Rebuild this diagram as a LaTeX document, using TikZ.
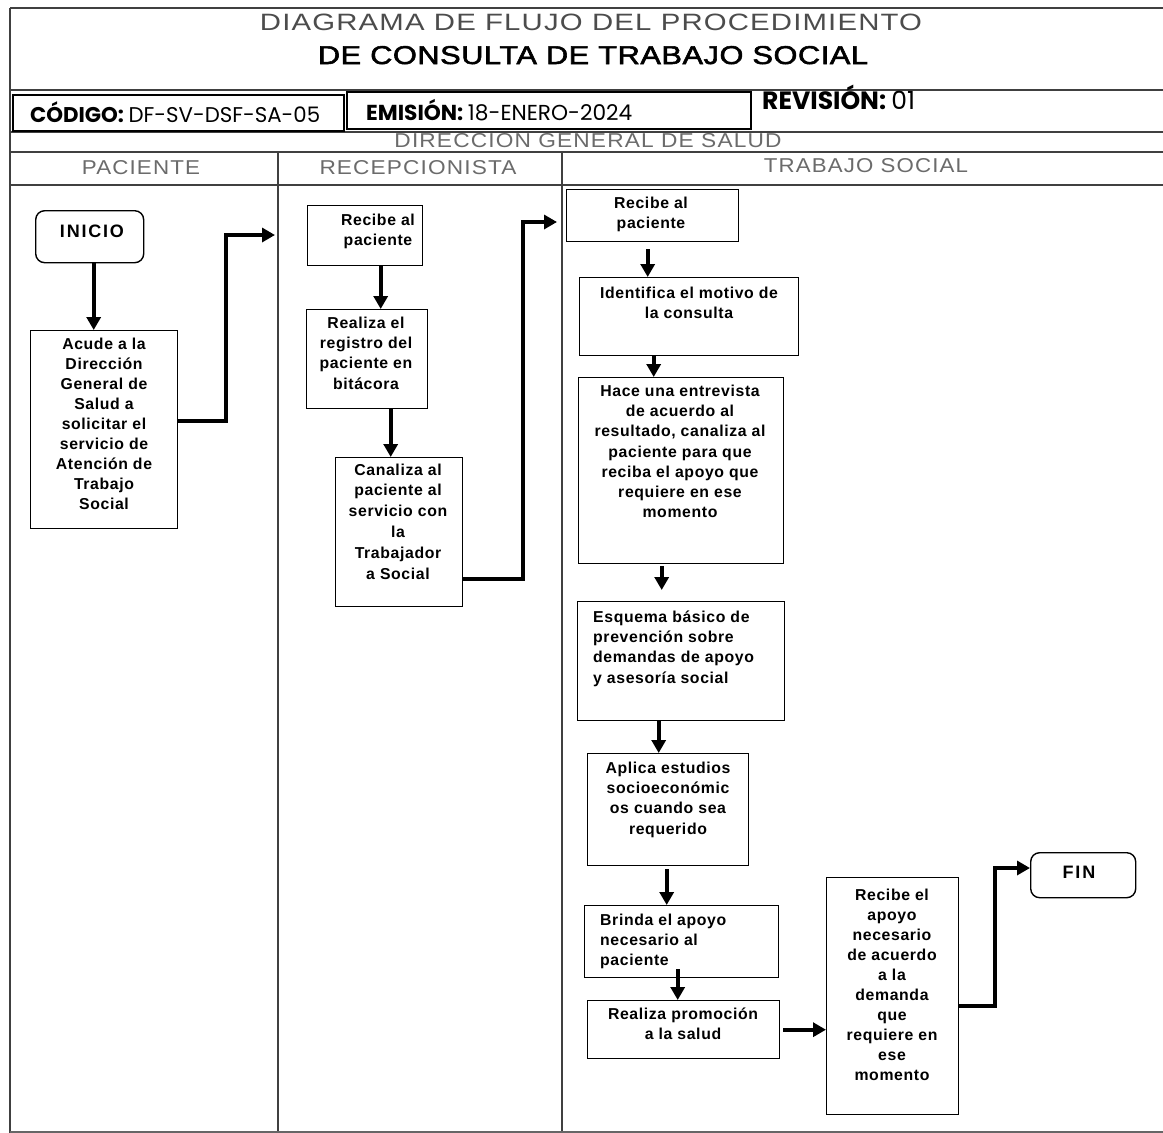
\documentclass[tikz,border=0pt]{standalone}
\usepackage{fontspec}
\usepackage{graphicx}
\setmainfont{Liberation Sans}
\newfontfamily\boxfont{Liberation Sans}[LetterSpace=4]
\newfontfamily\termfont{Liberation Sans}[LetterSpace=10]
\newfontfamily\lanefont{Liberation Sans}[LetterSpace=5]
\newfontfamily\titlefont{Liberation Sans}[LetterSpace=4]
\newfontfamily\titlefontb{Liberation Sans}[LetterSpace=2,FakeBold=2]
\newfontfamily\codefont{Poppins}
\usetikzlibrary{arrows.meta,calc}
\definecolor{framegray}{gray}{0.25}
\definecolor{hdrgray}{gray}{0.42}

\begin{document}
\begin{tikzpicture}[x=1pt,y=-1pt,
  frameline/.style={draw=framegray,line width=1.1pt},
  stepbox/.style={draw=black,line width=1.4pt,inner sep=0pt,anchor=north west},
  termbox/.style={stepbox,rounded corners=9pt},
  boxtext/.style={font=\boxfont\bfseries\fontsize{15.8}{20.3}\selectfont,align=center,inner sep=0pt,anchor=north},
  lefttext/.style={boxtext,align=left,anchor=north west},
  termtext/.style={font=\termfont\bfseries\fontsize{18}{20}\selectfont,inner sep=0pt},
  flow/.style={line width=3.6pt,-{Triangle[length=13pt,width=14pt]}},
  lane/.style={text=hdrgray,inner sep=0pt,anchor=base}
]
\useasboundingbox (0,0) rectangle (1163,1133);
\fill[white] (0,0) rectangle (1163,1133);

% ---------- header texts ----------
\node[anchor=base,inner sep=0pt,text=black!70] (title1) at (591,30.5)
  {\resizebox{662pt}{16.5pt}{\titlefont DIAGRAMA DE FLUJO DEL PROCEDIMIENTO}};
\node[anchor=base,inner sep=0pt] (title2) at (593,64)
  {\resizebox{550pt}{18pt}{\titlefontb DE CONSULTA DE TRABAJO SOCIAL}};
\node[lane] (dgs) at (588,147)
  {\resizebox{387pt}{14pt}{\lanefont DIRECCION GENERAL DE SALUD}};

% ---------- frame ----------
\draw[frameline] (10,8) -- (1163,8);
\draw[frameline] (10,8) -- (10,1133);
\draw[frameline] (10,90) -- (1163,90);
\draw[frameline] (10,132) -- (1163,132);
\draw[frameline] (10,152) -- (1163,152);
\draw[frameline] (10,185) -- (1163,185);
\draw[frameline] (278,152) -- (278,1133);
\draw[frameline] (562,152) -- (562,1133);
\draw[draw=black!60,line width=1.6pt] (10,1132) -- (1163,1132);

% ---------- code row ----------
\node[draw=black,line width=1.6pt,fill=white,inner sep=0pt,anchor=north west,
      minimum width=331pt,minimum height=36pt] (codebox) at (12,94) {};
\node[draw=black,line width=2pt,fill=white,inner sep=0pt,anchor=north west,
      minimum width=404pt,minimum height=37pt] (emibox) at (346,91) {};
\node[anchor=base west,inner sep=0pt] (codigo) at (30,122)
  {\resizebox{290pt}{!}{\codefont\bfseries CÓDIGO: \mdseries DF-SV-DSF-SA-05}};
\node[anchor=base west,inner sep=0pt] (emision) at (366,120)
  {\resizebox{266pt}{!}{\codefont\bfseries EMISIÓN: \mdseries 18-ENERO-2024}};
\node[anchor=base west,inner sep=0pt] (revision) at (762,109)
  {\resizebox{153pt}{!}{\codefont\bfseries REVISIÓN: \mdseries 01}};

% ---------- lane headings ----------
\node[lane] (hpac) at (141,174) {\resizebox{118pt}{14pt}{\lanefont PACIENTE}};
\node[lane] (hrec) at (418,174) {\resizebox{197pt}{14pt}{\lanefont RECEPCIONISTA}};
\node[lane] (hts)  at (866,172) {\resizebox{204pt}{14pt}{\lanefont TRABAJO SOCIAL}};

% ---------- PACIENTE ----------
\node[termbox,minimum width=108pt,minimum height=52pt] (inicio) at (35,210) {};
\node[termtext] (inicioT) at (92,231) {INICIO};
\node[stepbox,minimum width=147pt,minimum height=198pt] (acude) at (30,330) {};
\node[boxtext,font=\boxfont\bfseries\fontsize{15.8}{20.1}\selectfont] (acudeT) at (104,337.5)
  {Acude a la\\Dirección\\General de\\Salud a\\solicitar el\\servicio de\\Atención de\\Trabajo\\Social};

% ---------- RECEPCIONISTA ----------
\node[stepbox,minimum width=115pt,minimum height=60pt] (rrec) at (307,205) {};
\node[boxtext] (rrecT) at (378,213.5) {Recibe al\\paciente};
\node[stepbox,minimum width=121pt,minimum height=99pt] (rreg) at (306,309) {};
\node[boxtext] (rregT) at (366,316.5) {Realiza el\\registro del\\paciente en\\bitácora};
\node[stepbox,minimum width=127pt,minimum height=149pt] (rcan) at (335,457) {};
\node[boxtext,font=\boxfont\bfseries\fontsize{15.8}{20.8}\selectfont] (rcanT) at (398,463.5)
  {Canaliza al\\paciente al\\servicio con\\la\\Trabajador\\a Social};

% ---------- TRABAJO SOCIAL ----------
\node[stepbox,minimum width=172pt,minimum height=52pt] (trec) at (566,189) {};
\node[boxtext] (trecT) at (651,196.5) {Recibe al\\paciente};
\node[stepbox,minimum width=219pt,minimum height=78pt] (tide) at (579,277) {};
\node[boxtext] (tideT) at (689,286.5) {Identifica el motivo de\\la consulta};
\node[stepbox,minimum width=205pt,minimum height=186pt] (thace) at (578,377) {};
\node[boxtext] (thaceT) at (680,384.5)
  {Hace una entrevista\\de acuerdo al\\resultado, canaliza al\\paciente para que\\reciba el apoyo que\\requiere en ese\\momento};
\node[stepbox,minimum width=207pt,minimum height=119pt] (tesq) at (577,601) {};
\node[lefttext] (tesqT) at (593,610.5)
  {Esquema básico de\\prevención sobre\\demandas de apoyo\\y asesoría social};
\node[stepbox,minimum width=161pt,minimum height=112pt] (tapl) at (587,753) {};
\node[boxtext] (taplT) at (668,761.5) {Aplica estudios\\socioeconómic\\os cuando sea\\requerido};
\node[stepbox,minimum width=194pt,minimum height=72pt] (tbri) at (584,905) {};
\node[lefttext] (tbriT) at (600,913.5) {Brinda el apoyo\\necesario al\\paciente};
\node[stepbox,minimum width=192pt,minimum height=58pt] (tpro) at (587,1000) {};
\node[boxtext] (tproT) at (683,1007.5) {Realiza promoción\\a la salud};
\node[stepbox,minimum width=132pt,minimum height=237pt] (tapo) at (826,877) {};
\node[boxtext,font=\boxfont\bfseries\fontsize{15.8}{20}\selectfont] (tapoT) at (892,888.5)
  {Recibe el\\apoyo\\necesario\\de acuerdo\\a la\\demanda\\que\\requiere en\\ese\\momento};
\node[termbox,minimum width=105pt,minimum height=45pt,termtext] (fin) at (1030,852) {};
\node[termtext] (finT) at (1079,872) {FIN};

% ---------- connectors ----------
\coordinate (k1) at (226,235);
\coordinate (e1) at (275,235);
\coordinate (k2) at (523,222);
\coordinate (e2) at (557,222);
\coordinate (k3) at (995,868);

\draw[flow] ([xshift=4pt]inicio.south) -- ([xshift=4pt]inicio.south |- acude.north);
\draw[flow] ([yshift=9pt]acude.east) -| (k1) -- (e1);

\draw[flow] ([xshift=15.5pt]rrec.south) -- ([xshift=15.5pt]rrec.south |- rreg.north);
\draw[flow] ([xshift=23.5pt]rreg.south) -- ([xshift=23.5pt]rreg.south |- rcan.north);
\draw[flow] ([yshift=-46.5pt]rcan.east) -| (k2) -- (e2);

\draw[flow,shorten <=7pt] ([xshift=-5pt]trec.south) -- ([xshift=-5pt]trec.south |- tide.north);
\draw[flow] ([xshift=-35.5pt]tide.south) -- ([xshift=-35.5pt]tide.south |- thace.north);
\draw[flow,shorten <=2pt,shorten >=11pt] ([xshift=-19.5pt]thace.south) -- ([xshift=-19.5pt]thace.south |- tesq.north);
\draw[flow] ([xshift=-22.5pt]tesq.south) -- ([xshift=-22.5pt]tesq.south |- tapl.north);
\draw[flow,shorten <=3pt] ([xshift=-1.5pt]tapl.south) -- ([xshift=-1.5pt]tapl.south |- tbri.north);
\draw[flow] ([xshift=-4pt,yshift=9pt]tbri.south) -- ([xshift=-4pt]tbri.south |- tpro.north);
\draw[flow,shorten <=3pt] (tpro.east) -- (tpro.east -| tapo.west);
\draw[flow] ([yshift=-9.5pt]tapo.east) -| (k3) -- (k3 -| fin.west);
\end{tikzpicture}
\end{document}
